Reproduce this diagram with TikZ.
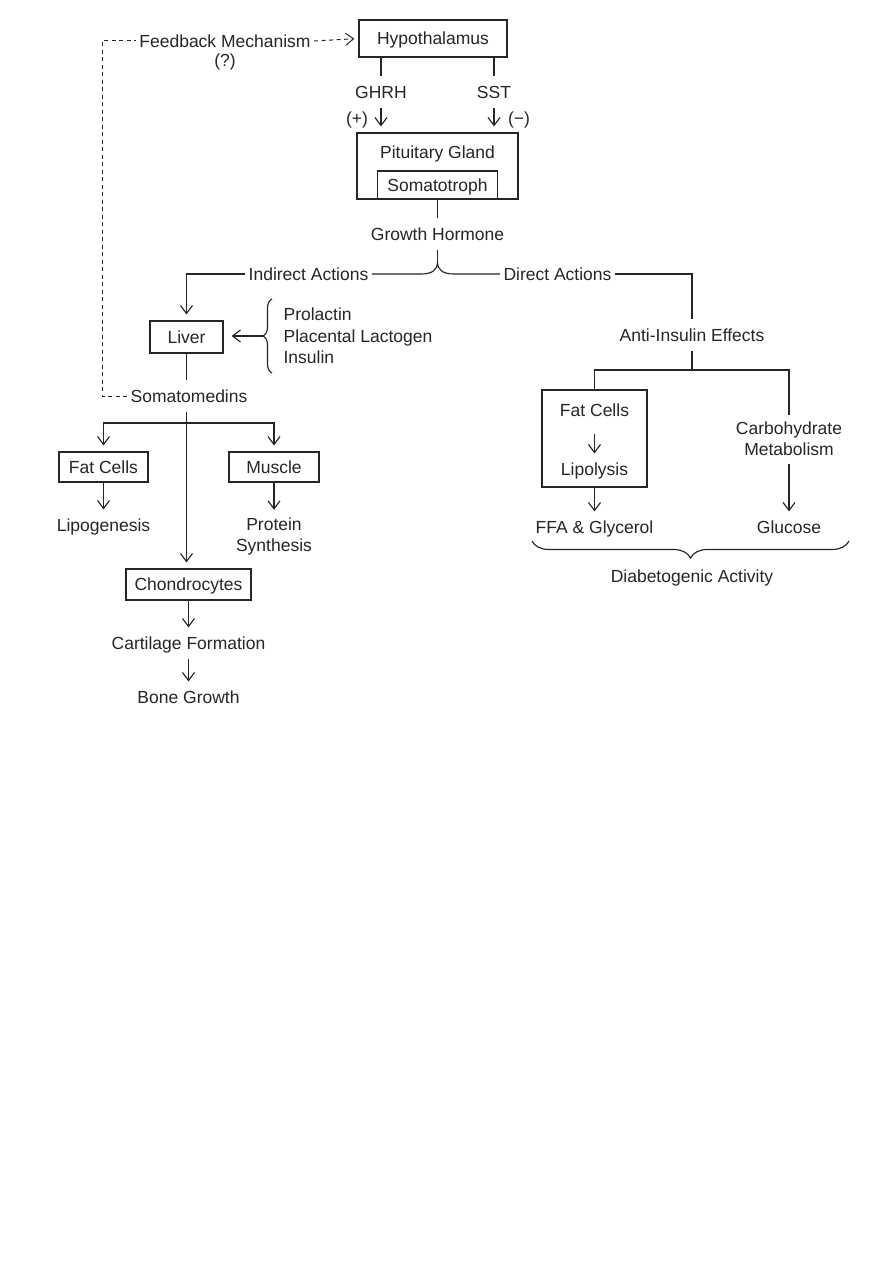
\documentclass[tikz,border=0pt]{standalone}
\usepackage{fontspec}
\setmainfont{Liberation Sans}
\usetikzlibrary{arrows.meta,decorations.pathreplacing}
\definecolor{ink}{HTML}{262626}
\newcommand\dgfont{\fontsize{17.5}{21}\selectfont}
\begin{document}
\begin{tikzpicture}[x=1pt,y=-1pt,
  color=ink,
  line width=1.15pt,
  >={Straight Barb[length=8pt,width=12pt]},
  txt/.style={inner xsep=3pt, inner ysep=8.75pt, text height=12.5pt, text depth=0pt, font=\dgfont},
  mtxt/.style={inner xsep=3pt, inner ysep=7pt, align=center, font=\dgfont},
  box/.style={draw, inner sep=0pt, text height=12.5pt, text depth=0pt, font=\dgfont},
  tobox/.style={->, shorten >=6pt},
  dsh/.style={dash pattern=on 4pt off 3.5pt, line width=1pt},
  brc/.style={decorate, decoration={brace, amplitude=#1}}
]
\fill[white] (0,0) rectangle (893,1263);
\useasboundingbox (0,0) rectangle (893,1263);

% ---------- top ----------
\node[box, minimum width=148pt, minimum height=37pt] (hypo) at (433,38.5) {Hypothalamus};
\node[txt] (feedback) at (225,41) {Feedback Mechanism};
\node[txt] (fbq) at (225,60) {(?)};
\node[txt] (ghrh) at (381,92) {GHRH};
\node[txt] (sst) at (494,92) {SST};
\node[txt] (plus) at (357,118) {(+)};
\node[txt] (minus) at (519,118) {(−)};
\node[box, minimum width=161pt, minimum height=66pt] (pit) at (437.5,166) {};
\node[txt] (pitl) at (437.5,152) {Pituitary Gland};
\node[box, minimum width=120pt, minimum height=28pt] (soma) at (437.5,185) {Somatotroph};
\node[txt] (gh) at (437.5,234) {Growth Hormone};
\node[txt] (indirect) at (308.5,274) {Indirect Actions};
\node[txt] (direct) at (557.5,274) {Direct Actions};

% ---------- left ----------
\node[box, minimum width=73pt, minimum height=32pt] (liver) at (186.5,337) {Liver};
\node[txt, anchor=west] (prol) at (280,314) {Prolactin};
\node[txt, anchor=west] (plac) at (280,336) {Placental Lactogen};
\node[txt, anchor=west] (ins) at (280,357) {Insulin};
\node[txt] (somato) at (189,396) {Somatomedins};
\node[box, minimum width=89pt, minimum height=30pt] (fatL) at (103.5,467) {Fat Cells};
\node[box, minimum width=90pt, minimum height=30pt] (muscle) at (274,467) {Muscle};
\node[txt] (lipog) at (103.5,525) {Lipogenesis};
\node[mtxt] (prot) at (274,536) {Protein\\Synthesis};
\node[box, minimum width=125pt, minimum height=31pt] (chond) at (188.5,584.5) {Chondrocytes};
\node[txt] (cart) at (188.5,643) {Cartilage Formation};
\node[txt] (bone) at (188.5,697) {Bone Growth};

% ---------- right ----------
\node[txt] (anti) at (692,335) {Anti-Insulin Effects};
\node[box, minimum width=105pt, minimum height=97pt] (rfb) at (594.5,438.5) {};
\node[txt] (fatR) at (594.5,410) {Fat Cells};
\node[txt] (lipo) at (594.5,469) {Lipolysis};
\node[mtxt] (carb) at (789,439) {Carbohydrate\\Metabolism};
\node[txt] (ffa) at (594.5,527) {FFA \& Glycerol};
\node[txt] (gluc) at (789,527) {Glucose};
\node[txt] (diab) at (692,576) {Diabetogenic Activity};

% ---------- coordinates ----------
\coordinate (fbc) at (102,41);
\coordinate (ghL) at (421,274);
\coordinate (ghtip) at (437.5,262);
\coordinate (ghR) at (454,274);
\coordinate (aj) at (692,370);
\coordinate (brB) at (272,373);
\coordinate (brT) at (272,299);
\coordinate (brtip) at (263,336);
\coordinate (sj) at (186.5,423);
\coordinate (dbR) at (849,541);
\coordinate (dbL) at (532,541);

% ---------- connectors ----------
\draw[dsh, ->, shorten >=4pt] (feedback.east) -- (hypo.west);
\draw[dsh] (somato.west) -| (fbc) -- (feedback.west);

\draw (hypo.south -| ghrh) -- (ghrh.north);
\draw[tobox] (ghrh.south) -- (ghrh.south |- pit.north);
\draw (hypo.south -| sst) -- (sst.north);
\draw[tobox] (sst.south) -- (sst.south |- pit.north);

\draw (pit.south) -- (gh.north);
\draw (gh.south) -- (ghtip);
\draw (indirect.east) -- (ghL) .. controls (432,274) and (437.5,270) .. (ghtip)
      .. controls (437.5,270) and (443,274) .. (ghR) -- (direct.west);

\draw[tobox] (indirect.west) -| (liver.north);
\draw[brc=9pt] (brB) -- (brT);
\draw[->, shorten >=8pt] (brtip) -- (brtip -| liver.east);
\draw (liver.south) -- (liver.south |- somato.north);
\draw[tobox] (somato.south -| sj) -- (sj |- chond.north);
\draw[tobox] (sj) -| (fatL.north);
\draw[tobox] (sj) -| (muscle.north);
\draw[->] (fatL.south) -- (lipog.north);
\draw[->] (muscle.south) -- (prot.north);
\draw[->] (chond.south) -- (cart.north);
\draw[->] (cart.south) -- (bone.north);

\draw (direct.east) -| (anti.north);
\draw (anti.south) -- (aj);
\draw (rfb.north) |- (aj) -| (carb.north);
\draw[->, shorten <=8pt] (fatR.south) -- (lipo.north);
\draw[->] (rfb.south) -- (rfb.south |- ffa.north);
\draw[->] (carb.south) -- (carb.south |- gluc.north);
\draw[brc=17pt] (dbR) -- (dbL);
\end{tikzpicture}
\end{document}
